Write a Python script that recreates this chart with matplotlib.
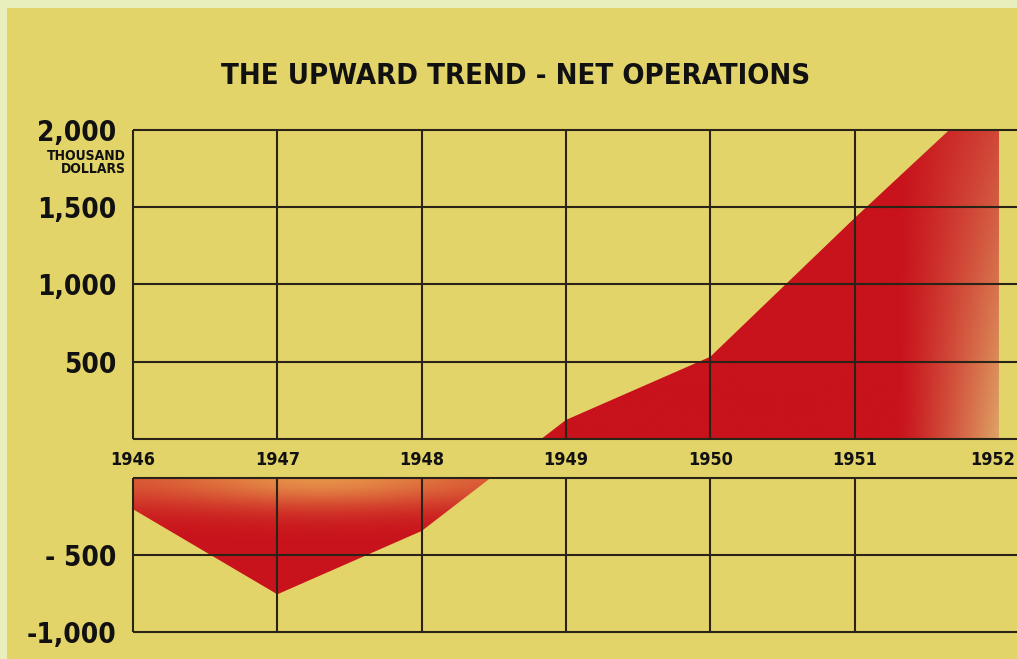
import matplotlib
matplotlib.use("Agg")
import matplotlib.pyplot as plt
import numpy as np
from matplotlib.path import Path

years = [1946, 1947, 1948, 1949, 1950, 1951, 1952]
net_ops = [-205, -756, -346, 123, 532, 1430, 2300]  # thousand dollars

top_ticks = [500, 1000, 1500, 2000]
top_labels = ["500", "1,000", "1,500", "2,000"]
bottom_ticks = [-500, -1000]
bottom_labels = ["- 500", "-1,000"]

GAP = 250  # blank band between the two panels, in value units
X_END = 1952.125

yellow = "#e3d46a"
ink = "#2a2418"
red = np.array([200, 18, 28]) / 255
plt.rcParams["font.family"] = ["DejaVu Sans"]
plt.rcParams["font.stretch"] = "condensed"

fig = plt.figure(figsize=(10.17, 6.59), dpi=100, facecolor="#e8efbc")
bg = fig.add_axes([7 / 1017, 0, 1, 1 - 8 / 659], zorder=-5)
bg.axis("off")
bg.add_patch(plt.Rectangle((0, 0), 1, 1, transform=bg.transAxes, color=yellow))

ax = fig.add_axes([133 / 1017, 27 / 659, 1 - 133 / 1017, (632 - 130) / 659])
ax.patch.set_visible(False)
for s in ax.spines.values():
    s.set_visible(False)
ax.set_xlim(1946, X_END)
ax.set_ylim(-1000, 2000 + GAP)

x = np.array(years, dtype=float)
v = np.array(net_ops, dtype=float)
yp = np.where(v < 0, v, v + GAP)  # positive values sit above the gap band

neg = ax.fill_between(x, yp, 0, where=yp < 0, interpolate=True)
pos = ax.fill_between(x, yp, GAP, where=yp > GAP, interpolate=True)
neg.set_visible(False)
pos.set_visible(False)

# shaded red, fading at the right and just below zero
gx = np.linspace(1946, X_END, 700)
gy = np.linspace(-1000, 2000 + GAP, 500)
X, Y = np.meshgrid(gx, gy)
t_top = np.clip((X - 1951.3) / 0.75, 0, 1) ** 1.2 * \
    (0.35 + 0.6 * np.clip((2000 + GAP - Y) / 2000, 0, 1))
t_bot = np.exp(-(np.clip(-Y, 0, None) / 200) ** 2) * \
    (0.4 + 0.4 * np.exp(-((X - 1947.3) / 0.9) ** 2))
pale_top = np.array([226, 184, 112]) / 255
pale_bot = np.array([238, 176, 84]) / 255
top_img = red * (1 - t_top[..., None]) + pale_top * t_top[..., None]
bot_img = red * (1 - t_bot[..., None]) + pale_bot * t_bot[..., None]
img = np.where((Y > GAP / 2)[..., None], top_img, bot_img)

clip = Path.make_compound_path(*(neg.get_paths() + pos.get_paths()))
im = ax.imshow(img, extent=[1946, X_END, -1000, 2000 + GAP], origin="lower",
               aspect="auto", zorder=1, interpolation="bilinear")
im.set_clip_path(clip, ax.transData)

# grid
lw = 1.5
ax.hlines([-1000, -500, 0], 1946, X_END, color=ink, lw=lw, zorder=3, clip_on=False)
ax.hlines([GAP + t for t in [0] + top_ticks], 1946, X_END, color=ink, lw=lw,
          zorder=3, clip_on=False)
ax.vlines(years[:-1], -1000, 0, color=ink, lw=lw, zorder=3, clip_on=False)
ax.vlines(years[:-1], GAP, 2000 + GAP, color=ink, lw=lw, zorder=3, clip_on=False)

ax.set_xticks([])
ax.set_yticks([t + GAP for t in top_ticks] + bottom_ticks,
              top_labels + bottom_labels)
ax.tick_params(axis="y", length=0, pad=12, labelsize=20, colors="#111111")
for lab in ax.get_yticklabels():
    lab.set_fontweight("bold")

for yr in years[:-1]:
    ax.text(yr, GAP / 2 - 10, str(yr), ha="center", va="center", fontsize=13,
            fontweight="bold", color="#111111")
# last year label sits at the cropped right edge
ax.annotate(str(years[-1]), xy=(X_END, GAP / 2 - 10), xytext=(-2, 0),
            textcoords="offset pixels", ha="right", va="center", fontsize=13,
            fontweight="bold", color="#111111")

ax.annotate("THOUSAND\nDOLLARS", xy=(1946, 2000 + GAP), xytext=(-7, -19),
            textcoords="offset pixels", ha="right", va="top", fontsize=10,
            fontweight="bold", linespacing=0.9, color="#111111",
            multialignment="right")

fig.text(516 / 1017, 1 - 76 / 659, "THE UPWARD TREND - NET OPERATIONS",
         ha="center", va="center", fontsize=21, fontweight="bold", color="#111111")

fig.savefig("out.png", dpi=100, facecolor=fig.get_facecolor())
